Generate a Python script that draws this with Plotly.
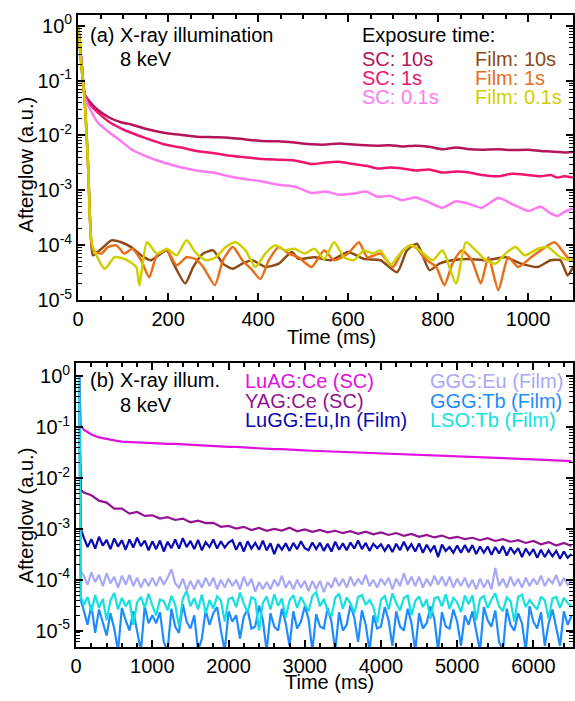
import plotly.graph_objects as go

W, H = 575, 701

# ---------------- Panel (a) data ----------------
t_sc = [0, 8, 15, 25, 44, 70, 95, 118, 150, 190, 230, 263, 300, 335, 370, 409, 445, 481, 519, 550,
        580, 613, 640, 665, 693, 720, 750, 780, 810, 840, 870, 897, 934, 965, 1000, 1028, 1050, 1066, 1080, 1100]
sc_10s = [1.0, 0.2, 0.055, 0.042, 0.029, 0.021, 0.0174, 0.0158, 0.0132, 0.0112, 0.0102, 0.0095, 0.0093, 0.0091,
          0.0085, 0.0079, 0.0078, 0.0074, 0.0069, 0.0068, 0.0071, 0.0068, 0.0066, 0.0065, 0.0066, 0.0063, 0.0065,
          0.0062, 0.0056, 0.0060, 0.0056, 0.0055, 0.0056, 0.0054, 0.0055, 0.0052, 0.0051, 0.0050, 0.0049, 0.0050]
sc_1s = [1.0, 0.2, 0.054, 0.038, 0.026, 0.0174, 0.0135, 0.0112, 0.0089, 0.0069, 0.0060, 0.0052, 0.0048, 0.0043,
         0.0040, 0.0037, 0.0036, 0.0035, 0.0030, 0.0032, 0.0033, 0.0030, 0.0028, 0.0025, 0.0026, 0.0025, 0.0023,
         0.0024, 0.0021, 0.0022, 0.0021, 0.0019, 0.0018, 0.0020, 0.0019, 0.0018, 0.0019, 0.0017, 0.0018, 0.0017]
sc_01s = [1.0, 0.2, 0.050, 0.032, 0.017, 0.0112, 0.0079, 0.0056, 0.0042, 0.0032, 0.0026, 0.0023, 0.0021, 0.0018,
          0.0016, 0.00145, 0.00126, 0.00117, 0.00089, 0.00095, 0.00083, 0.00087, 0.00095, 0.00076, 0.00079,
          0.00066, 0.00074, 0.00060, 0.00048, 0.00063, 0.00056, 0.00048, 0.00072, 0.00056, 0.00042, 0.00050,
          0.00038, 0.00034, 0.00040, 0.00047]

t_f10 = [0, 7, 14, 22, 28, 33, 52, 74, 96, 118, 140, 162, 184, 197, 212, 238, 256, 278, 300, 322, 344, 365, 387,
         416, 446, 475, 490, 525, 562, 600, 635, 672, 709, 731, 753, 781, 803, 832, 869, 906, 950, 985, 1022,
         1050, 1072, 1088, 1100]
film_10s = [1.0, 0.2, 0.05, 0.003, 1.6e-4, 6.5e-5, 8.6e-5, 1.22e-4, 1.13e-4, 9.2e-5, 6.5e-5, 5.3e-5, 7.0e-5,
            8.0e-5, 4.6e-5, 2.0e-5, 4.0e-5, 7.0e-5, 8.0e-5, 4.6e-5, 3.7e-5, 4.6e-5, 5.3e-5, 4.0e-5, 4.6e-5,
            7.5e-5, 5.6e-5, 6.0e-5, 5.3e-5, 7.5e-5, 5.6e-5, 5.3e-5, 3.2e-5, 8.0e-5, 1.06e-4, 3.5e-5, 4.6e-5,
            5.3e-5, 5.6e-5, 5.3e-5, 6.0e-5, 4.6e-5, 4.0e-5, 5.3e-5, 5.3e-5, 2.8e-5, 4.0e-5]

t_f1 = [0, 7, 14, 22, 28, 33, 52, 66, 85, 103, 120, 140, 158, 175, 197, 219, 241, 260, 278, 304, 322, 344, 365,
        387, 405, 424, 446, 468, 490, 519, 547, 569, 600, 624, 643, 672, 700, 722, 744, 775, 796, 814, 832, 853,
        875, 895, 912, 934, 956, 978, 1007, 1028, 1059, 1081, 1094, 1100]
film_1s = [1.0, 0.2, 0.05, 0.003, 1.6e-4, 8.0e-5, 7.0e-5, 9.2e-5, 9.9e-5, 7.0e-5, 8.6e-5, 5.3e-5, 2.6e-5, 6.5e-5,
           8.0e-5, 4.3e-5, 6.0e-5, 5.6e-5, 4.0e-5, 1.86e-5, 5.3e-5, 9.2e-5, 5.3e-5, 3.5e-5, 2.4e-5, 5.3e-5,
           9.2e-5, 7.0e-5, 6.0e-5, 4.0e-5, 8.0e-5, 5.3e-5, 7.0e-5, 1.13e-4, 6.0e-5, 7.0e-5, 4.0e-5, 8.0e-5,
           9.9e-5, 5.3e-5, 4.0e-5, 1.86e-5, 4.6e-5, 8.0e-5, 5.3e-5, 2.0e-5, 6.0e-5, 1.5e-5, 6.0e-5, 4.0e-5,
           6.0e-5, 8.0e-5, 1.13e-4, 7.0e-5, 5.3e-5, 5.6e-5]

t_f01 = [0, 7, 14, 22, 28, 33, 59, 81, 103, 129, 136, 153, 175, 197, 219, 241, 263, 285, 306, 328, 350, 372, 394,
         416, 438, 460, 481, 503, 525, 547, 569, 591, 613, 635, 656, 672, 694, 716, 738, 759, 788, 810, 840, 862,
         884, 906, 928, 950, 972, 993, 1022, 1044, 1072, 1094, 1100]
film_01s = [1.0, 0.2, 0.05, 0.003, 1.6e-4, 9.2e-5, 3.7e-5, 6.0e-5, 5.6e-5, 4.0e-5, 1.86e-5, 1.13e-4, 7.0e-5,
            8.6e-5, 6.5e-5, 1.22e-4, 7.0e-5, 5.3e-5, 6.0e-5, 9.2e-5, 1.13e-4, 8.0e-5, 4.0e-5, 7.0e-5, 9.9e-5,
            8.0e-5, 8.6e-5, 7.0e-5, 8.6e-5, 5.6e-5, 1.13e-4, 6.0e-5, 5.3e-5, 8.0e-5, 7.0e-5, 8.0e-5, 4.3e-5,
            7.0e-5, 9.9e-5, 8.0e-5, 5.3e-5, 8.0e-5, 2.0e-5, 1.13e-4, 8.0e-5, 5.3e-5, 4.6e-5, 7.0e-5, 9.2e-5,
            6.5e-5, 8.6e-5, 9.2e-5, 6.0e-5, 5.3e-5, 5.6e-5]

# ---------------- Panel (b) data ----------------
# 100 ms sampling (single-crystal curves)
t_b100 = [40, 60, 100, 200, 300, 400, 500, 600, 700, 800, 900, 1000, 1100, 1200, 1300, 1400, 1500, 1600, 1700,
          1800, 1900, 2000, 2100, 2200, 2300, 2400, 2500, 2600, 2700, 2800, 2900, 3000, 3100, 3200, 3300, 3400,
          3500, 3600, 3700, 3800, 3900, 4000, 4100, 4200, 4300, 4400, 4500, 4600, 4700, 4800, 4900, 5000, 5100,
          5200, 5300, 5400, 5500, 5600, 5700, 5800, 5900, 6000, 6100, 6200, 6300, 6400, 6500]
luag_ce = [1.0, 0.112, 0.089, 0.072, 0.063, 0.058, 0.055, 0.052, 0.051, 0.050, 0.050, 0.049, 0.048, 0.047, 0.047,
           0.046, 0.045, 0.044, 0.043, 0.043, 0.042, 0.041, 0.041, 0.040, 0.039, 0.039, 0.038, 0.037, 0.037,
           0.036, 0.0355, 0.035, 0.0345, 0.034, 0.0335, 0.033, 0.0325, 0.032, 0.0317, 0.0312, 0.031, 0.0305,
           0.030, 0.0297, 0.0293, 0.029, 0.0285, 0.028, 0.0278, 0.0275, 0.027, 0.0267, 0.0263, 0.026, 0.0257,
           0.0253, 0.025, 0.0247, 0.0244, 0.024, 0.0237, 0.0234, 0.023, 0.0228, 0.0225, 0.0222, 0.0215]
yag_ce = [1.0, 5.9e-3, 5.2e-3, 4.6e-3, 3.6e-3, 3.3e-3, 2.5e-3, 2.5e-3, 2.0e-3, 2.15e-3, 1.8e-3, 1.85e-3, 1.6e-3,
          1.7e-3, 1.5e-3, 1.6e-3, 1.35e-3, 1.45e-3, 1.3e-3, 1.32e-3, 1.1e-3, 1.15e-3, 1.02e-3, 1.1e-3, 0.95e-3,
          1.05e-3, 0.92e-3, 1.0e-3, 0.93e-3, 1.06e-3, 0.9e-3, 0.98e-3, 0.88e-3, 0.96e-3, 0.86e-3, 0.92e-3,
          0.83e-3, 0.9e-3, 0.8e-3, 0.88e-3, 0.78e-3, 0.85e-3, 0.76e-3, 0.83e-3, 0.73e-3, 0.8e-3, 0.7e-3,
          0.76e-3, 0.68e-3, 0.74e-3, 0.65e-3, 0.7e-3, 0.63e-3, 0.67e-3, 0.6e-3, 0.66e-3, 0.58e-3, 0.63e-3,
          0.56e-3, 0.6e-3, 0.53e-3, 0.58e-3, 0.5e-3, 0.55e-3, 0.47e-3, 0.53e-3, 0.46e-3]

# 50 ms sampling (film curves)
t_b50 = [40, 60,
         100, 150, 200, 250, 300, 350, 400, 450, 500, 550, 600, 650, 700, 750, 800, 850, 900, 950, 1000,
         1050, 1100, 1150, 1200, 1250, 1300, 1350, 1400, 1450, 1500, 1550, 1600, 1650, 1700, 1750, 1800, 1850,
         1900, 1950, 2000,
         2050, 2100, 2150, 2200, 2250, 2300, 2350, 2400, 2450, 2500, 2550, 2600, 2650, 2700, 2750, 2800, 2850,
         2900, 2950, 3000,
         3050, 3100, 3150, 3200, 3250, 3300, 3350, 3400, 3450, 3500, 3550, 3600, 3650, 3700, 3750, 3800, 3850,
         3900, 3950, 4000,
         4050, 4100, 4150, 4200, 4250, 4300, 4350, 4400, 4450, 4500, 4550, 4600, 4650, 4700, 4750, 4800, 4850,
         4900, 4950, 5000,
         5050, 5100, 5150, 5200, 5250, 5300, 5350, 5400, 5450, 5500, 5550, 5600, 5650, 5700, 5750, 5800, 5850,
         5900, 5950, 6000,
         6050, 6100, 6150, 6200, 6250, 6300, 6350, 6400, 6450, 6500]
lugg_euin = [1.0, 1.0e-3,
             6.8e-4, 4.4e-4, 6.3e-4, 4.1e-4, 7.0e-4, 4.7e-4, 6.1e-4, 4.0e-4, 6.5e-4, 4.5e-4, 6.0e-4, 3.9e-4,
             6.2e-4, 4.3e-4, 6.7e-4, 4.6e-4, 5.9e-4, 3.8e-4, 5.7e-4,
             4.0e-4, 5.9e-4, 3.6e-4, 5.6e-4, 4.2e-4, 6.2e-4, 4.1e-4, 6.6e-4, 4.4e-4, 5.8e-4, 4.0e-4, 6.1e-4,
             3.8e-4, 5.5e-4, 4.4e-4, 6.2e-4, 4.1e-4, 5.7e-4, 4.3e-4, 5.4e-4,
             6.0e-4, 3.9e-4, 5.5e-4, 3.6e-4, 5.7e-4, 4.1e-4, 5.3e-4, 3.9e-4, 5.9e-4, 3.8e-4, 5.2e-4, 3.2e-4,
             5.0e-4, 3.9e-4, 5.2e-4, 3.7e-4, 5.3e-4, 4.0e-4, 5.7e-4, 4.2e-4,
             3.8e-4, 5.4e-4, 4.0e-4, 5.3e-4, 3.7e-4, 5.1e-4, 3.6e-4, 5.6e-4, 3.9e-4, 5.2e-4, 3.8e-4, 5.4e-4,
             4.1e-4, 5.9e-4, 4.0e-4, 5.3e-4, 3.7e-4, 5.1e-4, 4.2e-4, 5.0e-4,
             3.7e-4, 4.9e-4, 3.5e-4, 5.1e-4, 3.8e-4, 5.6e-4, 3.9e-4, 5.0e-4, 3.6e-4, 5.2e-4, 3.4e-4, 4.9e-4,
             3.6e-4, 4.7e-4, 2.8e-4, 4.9e-4, 3.7e-4, 4.4e-4, 3.4e-4, 4.7e-4,
             3.4e-4, 4.8e-4, 3.5e-4, 4.8e-4, 3.2e-4, 4.5e-4, 3.4e-4, 4.5e-4, 3.1e-4, 4.4e-4, 3.3e-4, 4.6e-4,
             3.0e-4, 4.3e-4, 3.3e-4, 4.2e-4, 2.8e-4, 4.1e-4, 3.1e-4, 4.0e-4,
             2.7e-4, 3.9e-4, 2.8e-4, 3.8e-4, 2.9e-4, 3.7e-4, 2.6e-4, 3.6e-4, 2.7e-4, 3.2e-4]
ggg_eu = [1.0, 1.5e-4,
          1.2e-4, 0.8e-4, 1.4e-4, 0.9e-4, 1.25e-4, 0.75e-4, 1.35e-4, 0.85e-4, 1.15e-4, 0.7e-4, 1.2e-4, 0.8e-4,
          1.25e-4, 0.75e-4, 1.1e-4, 0.7e-4, 1.05e-4, 0.75e-4, 1.1e-4,
          0.75e-4, 1.15e-4, 0.8e-4, 1.1e-4, 1.6e-4, 0.85e-4, 0.7e-4, 1.05e-4, 0.62e-4, 0.95e-4, 0.65e-4, 1.0e-4,
          0.7e-4, 1.1e-4, 0.75e-4, 1.1e-4, 0.65e-4, 1.0e-4, 0.7e-4, 1.05e-4,
          0.75e-4, 1.0e-4, 0.65e-4, 1.15e-4, 0.75e-4, 1.05e-4, 0.58e-4, 0.9e-4, 0.65e-4, 0.9e-4, 0.65e-4, 1.0e-4,
          0.75e-4, 1.2e-4, 0.7e-4, 0.95e-4, 0.65e-4, 1.0e-4, 0.7e-4, 0.95e-4,
          0.6e-4, 0.95e-4, 0.65e-4, 0.95e-4, 0.57e-4, 0.9e-4, 0.7e-4, 1.1e-4, 0.75e-4, 1.05e-4, 0.7e-4, 1.15e-4,
          0.75e-4, 1.05e-4, 0.8e-4, 1.25e-4, 0.75e-4, 1.0e-4, 0.7e-4, 1.05e-4,
          0.8e-4, 1.1e-4, 0.65e-4, 1.05e-4, 0.75e-4, 1.35e-4, 0.8e-4, 1.15e-4, 0.75e-4, 1.15e-4, 0.7e-4, 1.05e-4,
          0.75e-4, 1.2e-4, 0.8e-4, 1.15e-4, 0.75e-4, 1.15e-4, 0.7e-4, 1.05e-4,
          0.75e-4, 1.1e-4, 0.7e-4, 1.0e-4, 0.65e-4, 1.05e-4, 0.7e-4, 1.0e-4, 0.65e-4, 1.7e-4, 0.75e-4, 1.05e-4,
          0.7e-4, 1.15e-4, 0.75e-4, 1.05e-4, 0.7e-4, 1.1e-4, 0.75e-4, 1.05e-4,
          0.8e-4, 1.2e-4, 0.75e-4, 1.05e-4, 0.85e-4, 1.25e-4, 0.75e-4, 1.1e-4, 0.8e-4, 0.95e-4]
ggg_tb = [1.0, 4.0e-5,
          2.5e-5, 1.3e-5, 3.2e-5, 0.9e-5, 2.6e-5, 1.5e-5, 0.8e-5, 2.2e-5, 1.1e-5, 0.4e-5, 2.8e-5, 1.6e-5,
          1.0e-5, 2.4e-5, 0.9e-5, 0.4e-5, 3.0e-5, 1.4e-5, 2.0e-5,
          1.4e-5, 2.3e-5, 0.6e-5, 0.4e-5, 2.7e-5, 1.2e-5, 0.9e-5, 3.3e-5, 1.5e-5, 1.1e-5, 2.0e-5, 0.4e-5,
          0.7e-5, 2.5e-5, 1.3e-5, 2.2e-5, 2.9e-5, 1.0e-5, 0.4e-5, 2.4e-5,
          1.5e-5, 2.0e-5, 0.7e-5, 1.9e-5, 2.6e-5, 1.1e-5, 1.2e-5, 3.1e-5, 1.6e-5, 0.4e-5, 2.2e-5, 1.2e-5,
          1.0e-5, 2.7e-5, 1.4e-5, 0.5e-5, 2.4e-5, 1.1e-5, 1.5e-5, 3.0e-5,
          1.7e-5, 0.4e-5, 2.1e-5, 1.2e-5, 1.1e-5, 2.8e-5, 1.5e-5, 0.4e-5, 2.3e-5, 1.0e-5, 1.3e-5, 3.2e-5,
          1.8e-5, 0.6e-5, 2.5e-5, 1.3e-5, 0.4e-5, 2.0e-5, 1.1e-5, 1.2e-5,
          2.9e-5, 1.6e-5, 0.5e-5, 2.4e-5, 1.2e-5, 1.0e-5, 2.7e-5, 1.4e-5, 0.4e-5, 2.2e-5, 1.1e-5, 1.4e-5,
          3.0e-5, 1.7e-5, 0.4e-5, 2.3e-5, 1.2e-5, 1.1e-5, 2.6e-5, 1.5e-5,
          0.5e-5, 2.0e-5, 1.3e-5, 2.4e-5, 1.0e-5, 0.4e-5, 2.9e-5, 1.6e-5, 1.2e-5, 2.5e-5, 0.6e-5, 0.4e-5,
          2.7e-5, 1.3e-5, 1.0e-5, 2.2e-5, 1.4e-5, 0.4e-5, 3.0e-5, 1.5e-5,
          1.1e-5, 2.3e-5, 0.5e-5, 1.4e-5, 2.6e-5, 1.2e-5, 0.5e-5, 2.4e-5, 1.3e-5, 2.0e-5]
lso_tb = [1.0, 4.7e-5,
          3.2e-5, 4.6e-5, 2.4e-5, 5.0e-5, 2.8e-5, 4.2e-5, 1.6e-5, 3.9e-5, 5.5e-5, 2.6e-5, 4.4e-5, 3.0e-5,
          4.0e-5, 1.3e-5, 3.6e-5, 4.6e-5, 2.8e-5, 5.3e-5, 3.1e-5,
          2.0e-5, 4.1e-5, 3.8e-5, 2.5e-5, 4.8e-5, 3.2e-5, 1.2e-5, 4.3e-5, 6.0e-5, 3.0e-5, 4.4e-5, 2.6e-5,
          5.1e-5, 2.2e-5, 4.0e-5, 2.7e-5, 4.7e-5, 3.9e-5, 1.5e-5, 4.2e-5,
          4.5e-5, 2.9e-5, 5.6e-5, 3.4e-5, 2.3e-5, 4.5e-5, 4.1e-5, 1.0e-5, 3.5e-5, 4.7e-5, 2.6e-5, 5.2e-5,
          3.1e-5, 4.3e-5, 1.8e-5, 3.9e-5, 5.0e-5, 2.8e-5, 4.6e-5, 3.3e-5,
          2.4e-5, 4.8e-5, 5.7e-5, 3.0e-5, 4.2e-5, 2.5e-5, 1.9e-5, 4.4e-5, 5.3e-5, 2.7e-5, 4.5e-5, 3.4e-5,
          2.2e-5, 4.6e-5, 5.0e-5, 3.2e-5, 4.0e-5, 2.9e-5, 1.4e-5, 4.1e-5,
          4.8e-5, 2.6e-5, 5.4e-5, 3.5e-5, 2.5e-5, 4.4e-5, 4.9e-5, 2.0e-5, 3.8e-5, 4.7e-5, 2.9e-5, 4.1e-5,
          1.7e-5, 4.3e-5, 4.6e-5, 3.0e-5, 5.2e-5, 2.7e-5, 4.4e-5, 3.6e-5,
          2.3e-5, 4.9e-5, 3.3e-5, 5.0e-5, 1.6e-5, 4.2e-5, 4.8e-5, 2.8e-5, 4.1e-5, 5.4e-5, 3.0e-5, 2.4e-5,
          4.5e-5, 3.8e-5, 1.5e-5, 4.6e-5, 5.1e-5, 2.9e-5, 4.0e-5, 3.2e-5,
          2.6e-5, 4.7e-5, 3.9e-5, 1.7e-5, 4.3e-5, 4.6e-5, 2.8e-5, 4.4e-5, 3.5e-5, 3.0e-5]

for arr in (lugg_euin, ggg_eu, ggg_tb, lso_tb):
    assert len(arr) == len(t_b50), (len(arr), len(t_b50))
for arr in (luag_ce, yag_ce):
    assert len(arr) == len(t_b100), (len(arr), len(t_b100))

ytick_vals = [1, 0.1, 0.01, 1e-3, 1e-4, 1e-5]
ytick_text = ["10<sup>0</sup>", "10<sup>-1</sup>", "10<sup>-2</sup>", "10<sup>-3</sup>",
              "10<sup>-4</sup>", "10<sup>-5</sup>"]

top_series = [
    ("SC: 10s", t_sc, sc_10s, "#B4145A"),
    ("SC: 1s", t_sc, sc_1s, "#F0146E"),
    ("SC: 0.1s", t_sc, sc_01s, "#FF7AF0"),
    ("Film: 10s", t_f10, film_10s, "#8C4A14"),
    ("Film: 1s", t_f1, film_1s, "#E8701A"),
    ("Film: 0.1s", t_f01, film_01s, "#CFCF00"),
]
bot_series = [
    ("LuAG:Ce (SC)", t_b100, luag_ce, "#E010E0"),
    ("YAG:Ce (SC)", t_b100, yag_ce, "#921492"),
    ("LuGG:Eu,In (Film)", t_b50, lugg_euin, "#0A0AB4"),
    ("GGG:Eu (Film)", t_b50, ggg_eu, "#A8A8F8"),
    ("GGG:Tb (Film)", t_b50, ggg_tb, "#1E8CFF"),
    ("LSO:Tb (Film)", t_b50, lso_tb, "#14E0E0"),
]

FONT = "Liberation Sans, Arial, sans-serif"
fig = go.Figure()

for name, tx, vy, col in top_series:
    fig.add_trace(go.Scatter(x=tx, y=vy, mode="lines", name=name, xaxis="x", yaxis="y",
                             line=dict(color=col, width=2.5, shape="spline", smoothing=0.6),
                             showlegend=False))
for name, tx, vy, col in bot_series:
    fig.add_trace(go.Scatter(x=tx, y=vy, mode="lines", name=name, xaxis="x2", yaxis="y2",
                             line=dict(color=col, width=2.2), showlegend=False))

def px(x):
    return x / W

def py(y):
    return 1 - y / H

axis_common = dict(showline=True, linecolor="black", linewidth=2, mirror="ticks", ticks="inside",
                   tickcolor="black", tickwidth=1.5, showgrid=False, zeroline=False,
                   tickfont=dict(size=20, color="black", family=FONT))

fig.update_layout(
    width=W, height=H, margin=dict(l=0, r=0, t=0, b=0),
    paper_bgcolor="white", plot_bgcolor="white",
    font=dict(family=FONT, size=20, color="black"),
    xaxis=dict(domain=[px(73), px(574)], anchor="y", range=[0, 1100], dtick=200, ticklen=7,
               minor=dict(dtick=50, ticks="inside", ticklen=4, tickcolor="black", tickwidth=1.5),
               **axis_common),
    yaxis=dict(domain=[py(303), py(12)], anchor="x", type="log", range=[-5, 0.2],
               tickvals=ytick_vals, ticktext=ytick_text, ticklen=7,
               minor=dict(ticks="inside", ticklen=4, tickcolor="black", tickwidth=1, dtick="D1"),
               **axis_common),
    xaxis2=dict(domain=[px(71), px(574)], anchor="y2", range=[0, 6520], dtick=1000, ticklen=7,
                minor=dict(dtick=200, ticks="inside", ticklen=4, tickcolor="black", tickwidth=1.5),
                **axis_common),
    yaxis2=dict(domain=[py(657), py(367)], anchor="x2", type="log", range=[-5.32, 0.27],
                tickvals=ytick_vals, ticktext=ytick_text, ticklen=7,
                minor=dict(ticks="inside", ticklen=4, tickcolor="black", tickwidth=1, dtick="D1"),
                **axis_common),
)

ann = []
def text(x, y, s, color="black", angle=0, xanchor="left"):
    ann.append(dict(x=px(x), y=py(y), xref="paper", yref="paper", text=s, showarrow=False,
                    xanchor=xanchor, yanchor="middle", textangle=angle,
                    font=dict(size=20, color=color, family=FONT)))

# panel (a) labels
text(83, 33, "(a) X-ray illumination")
text(113, 57, "8 keV")
text(358, 33, "Exposure time:")
leg_pos_a = [(358, 57), (358, 77), (358, 96), (473, 57), (473, 77), (473, 96)]
for (name, _, _, col), (x, y) in zip(top_series, leg_pos_a):
    text(x, y, name, col)
text(20, 165, "Afterglow (a.u.)", angle=-90, xanchor="center")
text(330, 341, "Time (ms)", xanchor="center")

# panel (b) labels
text(83, 385, "(b) X-ray illum.")
text(113, 410, "8 keV")
leg_pos_b = [(240, 386), (240, 406), (240, 426), (427, 386), (427, 406), (427, 426)]
for (name, _, _, col), (x, y) in zip(bot_series, leg_pos_b):
    text(x, y, name, col)
text(20, 523, "Afterglow (a.u.)", angle=-90, xanchor="center")
text(327, 693, "Time (ms)", xanchor="center")

fig.update_layout(annotations=ann)

fig.write_html("out.html", config={"displayModeBar": False},
               post_script="document.body.style.margin='0';")
